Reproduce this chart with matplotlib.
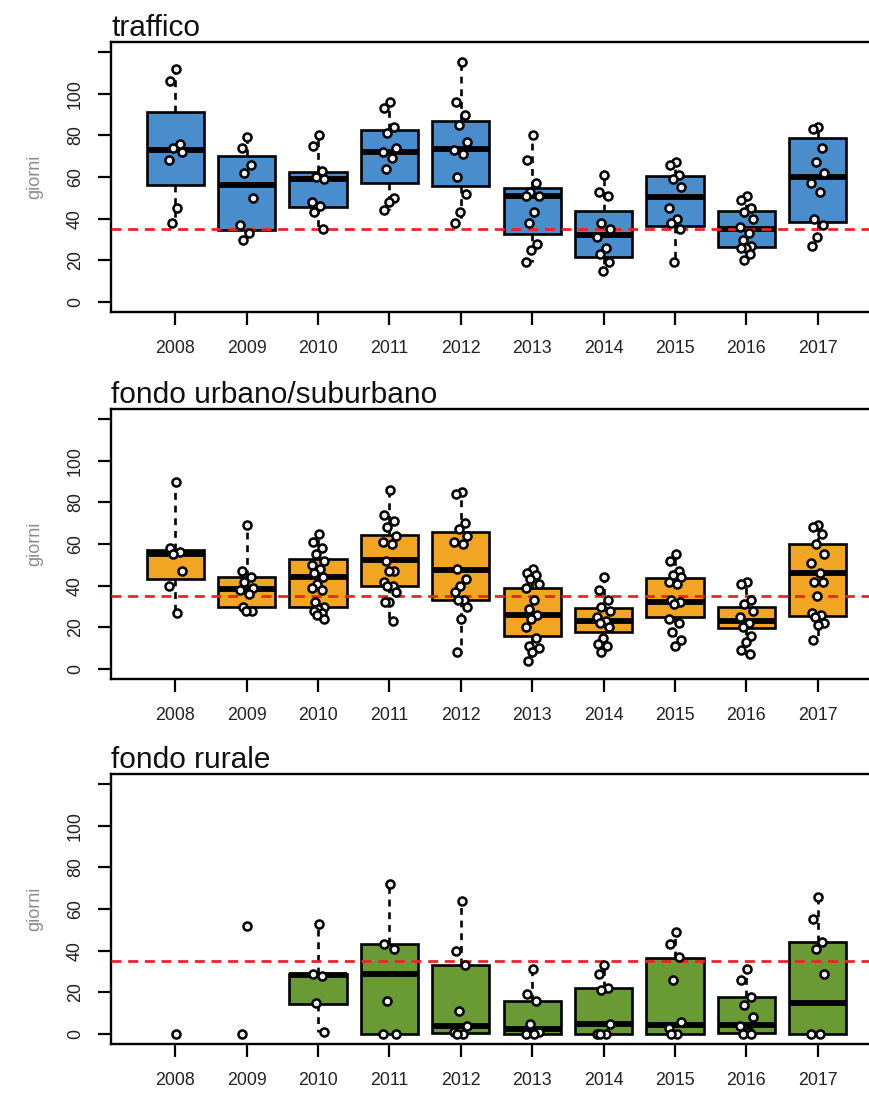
import matplotlib
matplotlib.use("Agg")
import matplotlib.pyplot as plt

plt.rcParams["font.family"] = ["Liberation Sans", "DejaVu Sans"]

years = [2008, 2009, 2010, 2011, 2012, 2013, 2014, 2015, 2016, 2017]
limit_days = 35

# --- traffico ---------------------------------------------------------------
traffico_points = [
    [112, 106, 76, 74, 72, 68, 45, 38],
    [79, 74, 66, 62, 50, 37, 33, 30],
    [80, 75, 63, 60, 59, 48, 46, 43, 35],
    [96, 93, 84, 81, 74, 72, 69, 64, 50, 48, 44],
    [115, 96, 90, 85, 77, 73, 71, 60, 52, 43, 38],
    [80, 68, 57, 53, 51, 51, 43, 38, 28, 25, 19],
    [61, 53, 51, 38, 35, 31, 26, 23, 19, 15],
    [67, 66, 61, 59, 55, 45, 40, 38, 35, 19],
    [51, 49, 45, 43, 40, 36, 33, 30, 27, 26, 26, 23, 20],
    [84, 83, 74, 67, 62, 57, 53, 40, 37, 31, 27],
]
traffico_q1 = [56.3, 34.6, 45.4, 57.0, 55.9, 32.7, 21.5, 36.7, 26.3, 38.6]
traffico_med = [73.1, 56.1, 59.0, 72.0, 73.4, 51.1, 32.2, 50.3, 34.9, 59.8]
traffico_q3 = [91.2, 70.2, 62.3, 82.7, 87.0, 54.6, 43.9, 60.3, 43.8, 78.7]

# --- fondo urbano/suburbano ---------------------------------------------------
urbano_points = [
    [90, 58, 56, 55, 47, 40, 27],
    [69, 47, 44, 42, 39, 38, 36, 30, 28, 28],
    [65, 61, 58, 55, 52, 50, 48, 46, 44, 41, 39, 38, 32, 30, 29, 28, 27, 26, 24],
    [86, 74, 71, 68, 64, 61, 60, 52, 47, 47, 42, 40, 40, 37, 32, 32, 23],
    [85, 84, 70, 67, 64, 61, 60, 48, 43, 40, 37, 33, 33, 30, 24, 8],
    [48, 46, 45, 43, 41, 39, 33, 29, 26, 24, 20, 15, 11, 10, 8, 4],
    [44, 38, 33, 30, 28, 25, 23, 22, 20, 15, 12, 11, 8],
    [55, 52, 47, 45, 44, 42, 41, 33, 32, 31, 24, 22, 18, 14, 11],
    [42, 41, 33, 31, 28, 25, 22, 20, 16, 13, 9, 7],
    [69, 68, 65, 60, 55, 51, 46, 42, 42, 35, 27, 26, 25, 22, 21, 14],
]
urbano_q1 = [43.3, 29.6, 29.6, 39.7, 32.9, 15.7, 17.9, 24.8, 19.7, 25.6]
urbano_med = [55.3, 38.3, 44.4, 52.1, 47.3, 26.0, 23.2, 32.0, 23.2, 46.0]
urbano_q3 = [57.2, 44.1, 52.9, 64.1, 66.0, 38.9, 29.3, 43.8, 29.6, 59.8]

# --- fondo rurale (no box for years with too few stations) --------------------
rurale_points = [
    [0],
    [52, 0],
    [53, 29, 28, 15, 1],
    [72, 43, 41, 16, 0, 0],
    [64, 40, 33, 11, 4, 1, 0, 0],
    [31, 19, 16, 5, 1, 0, 0],
    [33, 29, 22, 21, 5, 0, 0, 0],
    [49, 43, 37, 26, 6, 3, 0, 0],
    [31, 26, 18, 14, 8, 4, 1, 0, 0],
    [66, 55, 44, 41, 29, 0, 0],
]
rurale_q1 = [None, None, 14.6, 0.0, 0.6, 0.0, 0.0, 0.0, 0.6, 0.0]
rurale_med = [None, None, 28.2, 28.7, 3.8, 2.6, 4.6, 4.3, 4.2, 15.0]
rurale_q3 = [None, None, 29.0, 43.1, 33.0, 16.0, 22.0, 36.7, 18.0, 44.2]

panels = [
    ("traffico", "#4a8dcc", traffico_points, traffico_q1, traffico_med, traffico_q3),
    ("fondo urbano/suburbano", "#f2a523", urbano_points, urbano_q1, urbano_med, urbano_q3),
    ("fondo rurale", "#6a9a34", rurale_points, rurale_q1, rurale_med, rurale_q3),
]

# horizontal spread of the station points around each year
jitter = [0.01, -0.07, 0.06, -0.03, 0.09, -0.09, 0.03, -0.05, 0.07, -0.01, -0.08, 0.05,
          -0.04, 0.09, 0.0, -0.06, 0.05, -0.02, 0.08]

W, H = 869, 1093
fig = plt.figure(figsize=(W / 100, H / 100), dpi=100)
fig.patch.set_facecolor("white")

left_px, right_px = 111, 882
tops_px = [42, 409, 774]
panel_h = 270

positions = list(range(1, len(years) + 1))

for (title, color, pts, q1, med, q3), top in zip(panels, tops_px):
    ax = fig.add_axes([left_px / W, 1 - (top + panel_h) / H,
                       (right_px - left_px) / W, panel_h / H])

    stats, pos = [], []
    for i, (p, a, m, b) in enumerate(zip(pts, q1, med, q3)):
        if a is None:
            continue
        stats.append(dict(q1=a, med=m, q3=b, whislo=min(p), whishi=max(p)))
        pos.append(positions[i])

    ax.bxp(stats, positions=pos, widths=0.8, patch_artist=True,
           showcaps=False, showfliers=False,
           boxprops=dict(facecolor=color, edgecolor="black", linewidth=1.9),
           whiskerprops=dict(color="black", linewidth=1.9, linestyle=(0, (2.6, 2.2))),
           medianprops=dict(color="black", linewidth=4.2, solid_capstyle="butt"),
           zorder=2)

    ax.axhline(limit_days, color="#e8262a", linewidth=2.0,
               linestyle=(0, (3.6, 2.4)), zorder=3)

    for x0, p in zip(positions, pts):
        xs = [x0 + jitter[k % len(jitter)] for k in range(len(p))]
        ax.plot(xs, p, linestyle="none", marker="o", markersize=5.8,
                markerfacecolor="#f2f2f2", markeredgecolor="black",
                markeredgewidth=1.8, zorder=4)

    ax.set_xlim(0.1, 10.9)
    ax.set_ylim(-4.8, 124.8)
    ax.set_xticks(positions)
    ax.set_xticklabels([str(y) for y in years])
    ax.set_yticks([0, 20, 40, 60, 80, 100, 120])
    ax.set_yticklabels(["0", "20", "40", "60", "80", "100", ""],
                       rotation=90, va="center")
    ax.tick_params(axis="both", direction="out", length=9.5, width=1.6,
                   labelsize=12.8, labelcolor="#222222", color="black")
    ax.tick_params(axis="x", pad=11)
    ax.tick_params(axis="y", pad=10)
    for s in ax.spines.values():
        s.set_linewidth(1.7)

    ax.set_title(title, loc="left", fontsize=21.5, pad=3, color="#111111")

    fig.text(35 / W, 1 - (top + panel_h / 2) / H, "giorni", rotation=90,
             ha="center", va="center", fontsize=13, color="#8c8c8c")

fig.savefig("out.png", dpi=100, facecolor="white")
